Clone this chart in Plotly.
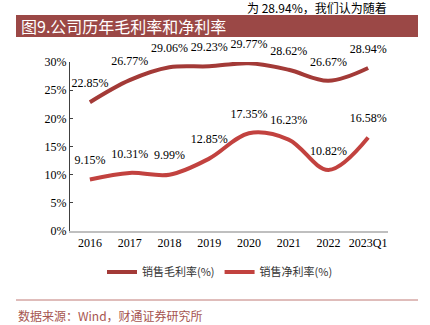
import plotly.graph_objects as go

categories = ["2016", "2017", "2018", "2019", "2020", "2021", "2022", "2023Q1"]
gross_margin = [22.85, 26.77, 29.06, 29.23, 29.77, 28.62, 26.67, 28.94]
net_margin = [9.15, 10.31, 9.99, 12.85, 17.35, 16.23, 10.82, 16.58]
y_ticks = [0, 5, 10, 15, 20, 25, 30]
y_tick_labels = [f"{v}%" for v in y_ticks]

W, H = 430, 325
L, R, T, B = 70, 388, 62, 231

def px(x):
    return (x - L) / (R - L)

def py(y):
    return (B - y) / (B - T)

serif = "Liberation Serif, Times New Roman, serif"
cjk = "Noto Sans CJK SC, sans-serif"

fig = go.Figure()
for name, vals, color in [("销售毛利率(%)", gross_margin, "#A33A37"),
                          ("销售净利率(%)", net_margin, "#C2423F")]:
    fig.add_trace(go.Scatter(
        x=categories, y=vals, mode="lines+markers+text", name=name,
        line=dict(color=color, width=4, shape="spline", smoothing=1.0),
        marker=dict(size=18, color="rgba(0,0,0,0)"),
        text=[f"{v:.2f}%" for v in vals], textposition="top center",
        textfont=dict(family=serif, size=12, color="#000000"),
        cliponaxis=False,
    ))

fig.update_layout(
    width=W, height=H,
    margin=dict(l=L, r=W - R, t=T, b=H - B, pad=0),
    paper_bgcolor="white", plot_bgcolor="white",
    showlegend=True,
    legend=dict(orientation="h", x=px(220), y=py(272), xanchor="center", yanchor="middle",
                font=dict(family=cjk, size=11, color="#333333"),
                itemwidth=30, tracegroupgap=0, bgcolor="rgba(0,0,0,0)"),
    xaxis=dict(type="category", range=[-0.5, 7.5], showgrid=False, zeroline=False,
               showline=True, linecolor="#BFBFBF", linewidth=2, ticks="",
               tickfont=dict(family=serif, size=12, color="#000000")),
    yaxis=dict(range=[0, 30], tickvals=y_ticks, ticktext=y_tick_labels, showgrid=False,
               zeroline=False, showline=True, linecolor="#404040", linewidth=1,
               ticks="inside", ticklen=3, tickcolor="#404040",
               tickfont=dict(family=serif, size=12, color="#000000")),
)

shapes = [
    dict(type="rect", xref="paper", yref="paper", x0=px(16), x1=px(418), y0=py(37), y1=py(15),
         fillcolor="#9B4846", line=dict(width=0), layer="above"),
    dict(type="line", xref="paper", yref="paper", x0=px(16), x1=px(418), y0=py(300), y1=py(300),
         line=dict(color="#C07A76", width=1)),
]
fig.update_layout(shapes=shapes)

annotations = [
    dict(text="图9.公司历年毛利率和净利率", xref="paper", yref="paper", x=px(19), y=py(26),
         xanchor="left", yanchor="middle", showarrow=False,
         font=dict(family=cjk, size=16, color="white")),
    dict(text="数据来源：Wind，财通证券研究所", xref="paper", yref="paper", x=px(16), y=py(315),
         xanchor="left", yanchor="middle", showarrow=False,
         font=dict(family=cjk, size=12, color="#A65550")),
    dict(text="为 28.94%，我们认为随着", xref="paper", yref="paper", x=px(245), y=py(8),
         xanchor="left", yanchor="middle", showarrow=False,
         font=dict(family=cjk, size=12, color="#000000")),
]
fig.update_layout(annotations=annotations)

fig.write_html("out.html")
